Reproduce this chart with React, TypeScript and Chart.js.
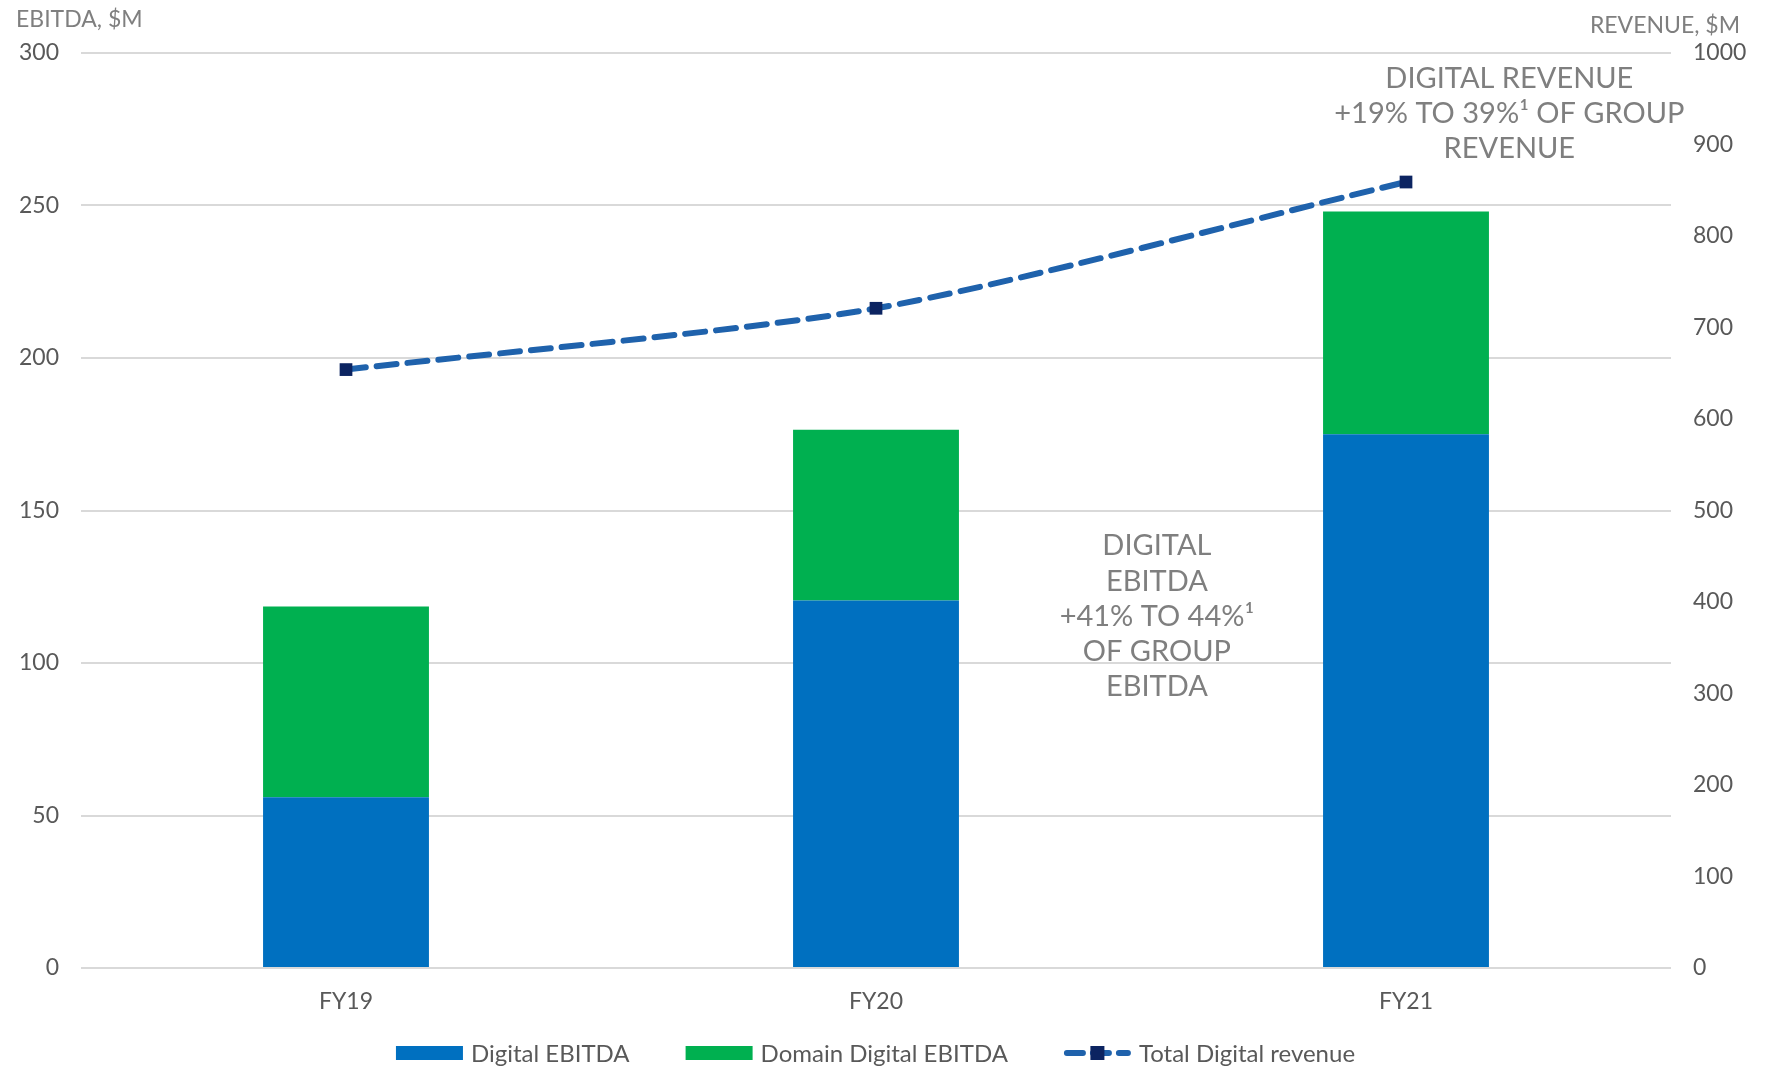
import React, { useEffect, useRef } from "react";
import { Chart, registerables } from "chart.js";
Chart.register(...registerables);

const categories = ["FY19", "FY20", "FY21"];
const digitalEbitda = [56, 120.5, 175];
const domainDigitalEbitda = [62.5, 56, 73];
const totalDigitalRevenue = [654, 721, 859];
const leftAxisTitle = "EBITDA, $M";
const rightAxisTitle = "REVENUE, $M";
const revenueNote = ["DIGITAL REVENUE", "+19% TO 39%\u00B9 OF GROUP", "REVENUE"];
const ebitdaNote = ["DIGITAL", "EBITDA", "+41% TO 44%\u00B9", "OF GROUP", "EBITDA"];
const seriesNames = ["Digital EBITDA", "Domain Digital EBITDA", "Total Digital revenue"];

const FONT = "Lato, 'Noto Sans', sans-serif";
const BLUE = "#0070C0";
const GREEN = "#00B050";
const LINE = "#1F62AC";
const MARK = "#0C2461";
const GREY = "#7F7F7F";
const TICK = "#595959";

const textPlugin = {
  id: "texts",
  afterDraw(chart: any) {
    const ctx = chart.ctx as CanvasRenderingContext2D;
    const W = chart.width;
    const area = chart.chartArea;
    ctx.save();
    // axis titles
    ctx.fillStyle = GREY;
    ctx.font = `23px ${FONT}`;
    ctx.textBaseline = "alphabetic";
    ctx.textAlign = "left";
    ctx.fillText(leftAxisTitle, 16, 27);
    ctx.textAlign = "right";
    ctx.fillText(rightAxisTitle, W - 31, 33);

    // annotations
    ctx.font = `29px ${FONT}`;
    ctx.textAlign = "center";
    ctx.textBaseline = "middle";
    const xs = chart.scales.x;
    const x3 = xs.getPixelForValue(2);
    const rx = x3 + (area.right - x3) * 0.39;
    revenueNote.forEach((t, i) => ctx.fillText(t, rx, 79 + i * 35));
    const x2 = xs.getPixelForValue(1);
    const ex = x2 + (x3 - x2) * 0.53;
    ebitdaNote.forEach((t, i) => ctx.fillText(t, ex, 546 + i * 35.2));

    // legend
    ctx.font = `24px ${FONT}`;
    ctx.textBaseline = "middle";
    ctx.textAlign = "left";
    const sw = 67, gap = 8, itemGap = 56;
    const widths = seriesNames.map((n) => sw + gap + ctx.measureText(n).width);
    const total = widths.reduce((a, b) => a + b, 0) + itemGap * (widths.length - 1);
    let x = W / 2 - total / 2 - 10;
    const y = 1053;
    seriesNames.forEach((n, i) => {
      if (i === 0 || i === 1) {
        ctx.fillStyle = i === 0 ? BLUE : GREEN;
        ctx.fillRect(x, y - 7, sw, 14);
      } else {
        ctx.save();
        ctx.strokeStyle = LINE;
        ctx.lineWidth = 6;
        ctx.lineCap = "round";
        ctx.setLineDash([16, 10]);
        ctx.beginPath();
        ctx.moveTo(x + 3, y);
        ctx.lineTo(x + sw - 3, y);
        ctx.stroke();
        ctx.restore();
        ctx.fillStyle = MARK;
        ctx.fillRect(x + sw / 2 - 7, y - 7, 14, 14);
      }
      ctx.fillStyle = TICK;
      ctx.fillText(n, x + sw + gap, y + 1);
      x += widths[i] + itemGap;
    });
    ctx.restore();
  },
};

export default function App() {
  const ref = useRef<HTMLCanvasElement>(null);
  useEffect(() => {
    document.body.style.margin = "0";
    const chart = new Chart(ref.current!, {
      type: "bar",
      data: {
        labels: categories,
        datasets: [
          {
            type: "line",
            label: seriesNames[2],
            data: totalDigitalRevenue,
            yAxisID: "y1",
            borderColor: LINE,
            borderWidth: 6,
            borderDash: [20, 11],
            borderCapStyle: "round",
            tension: 0.25,
            pointStyle: "rect",
            pointRadius: 9,
            pointBackgroundColor: MARK,
            pointBorderColor: MARK,
            pointBorderWidth: 0,
            order: 0,
          } as any,
          {
            label: seriesNames[0],
            data: digitalEbitda,
            backgroundColor: BLUE,
            yAxisID: "y",
            stack: "s",
            order: 1,
            categoryPercentage: 1,
            barPercentage: 0.313,
          },
          {
            label: seriesNames[1],
            data: domainDigitalEbitda,
            backgroundColor: GREEN,
            yAxisID: "y",
            stack: "s",
            order: 1,
            categoryPercentage: 1,
            barPercentage: 0.313,
          },
        ],
      },
      options: {
        animation: false,
        responsive: false,
        maintainAspectRatio: false,
        layout: { padding: { top: 53, left: 0, right: 0, bottom: 0 } },
        plugins: { legend: { display: false }, tooltip: { enabled: false } },
        scales: {
          x: {
            stacked: true,
            grid: { display: false, drawTicks: false },
            border: { display: false },
            ticks: { color: TICK, font: { family: FONT, size: 23 }, padding: 20 },
            afterFit: (s: any) => { s.height = 100; },
          },
          y: {
            stacked: true,
            position: "left",
            min: 0,
            max: 300,
            ticks: { stepSize: 50, color: TICK, font: { family: FONT, size: 23 }, padding: 22 },
            grid: { color: "#D9D9D9", lineWidth: 2, drawTicks: false },
            border: { display: false },
            afterFit: (s: any) => { s.width = 81; },
          },
          y1: {
            position: "right",
            min: 0,
            max: 1000,
            ticks: {
              stepSize: 100,
              color: TICK,
              font: { family: FONT, size: 23 },
              padding: 22,
              callback: (v: any) => String(v),
            },
            grid: { display: false, drawTicks: false },
            border: { display: false },
            afterFit: (s: any) => { s.width = 100; },
          },
        },
      },
      plugins: [textPlugin],
    });
    return () => chart.destroy();
  }, []);
  return (
    <div style={{ position: "fixed", left: 0, top: 0, width: 1771, height: 1068, background: "#fff" }}>
      <canvas ref={ref} width={1771} height={1068} style={{ width: 1771, height: 1068 }} />
    </div>
  );
}
